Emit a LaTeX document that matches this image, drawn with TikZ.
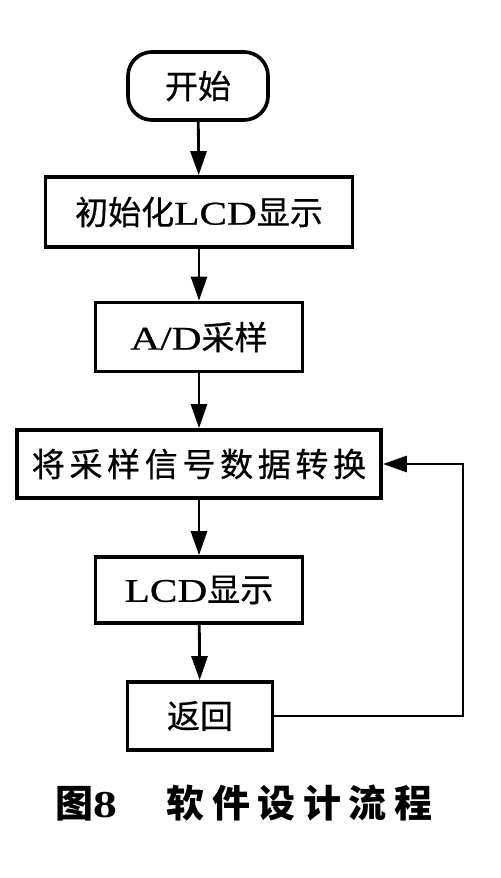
\documentclass[tikz,border=0pt]{standalone}
\usepackage{fontspec}
\setmainfont{Liberation Serif}[FakeStretch=1.25]
\newfontfamily\cjk{Noto Sans CJK SC}
\newfontfamily\boxlatin{Liberation Serif}[FakeStretch=1.25,FakeBold=0.6]
\newfontfamily\boxcjk{Noto Sans CJK SC}[FakeBold=0.6]
\usetikzlibrary{arrows.meta}

\begin{document}
\begin{tikzpicture}[x=0.025cm,y=-0.025cm,
    box/.style={draw,line width=2.6pt,inner sep=0pt,minimum height=1.7cm,
      font=\boxlatin\fontsize{23.5pt}{26pt}\selectfont},
    flow/.style={line width=2pt,-{Triangle[length=0.6cm,width=0.4cm]}}]
          \useasboundingbox (0,0) rectangle (500,878);
          % start
          \node[box,rounded corners=0.6cm,minimum width=3.5cm] (start) at (198,86) {\boxcjk 开始};
          % LCD init
          \node[box,minimum width=7.675cm,minimum height=1.75cm] (init) at (199,212) {{\boxcjk 初始化}LCD{\boxcjk 显示}};
          % sampling
          \node[box,minimum width=5.175cm,minimum height=1.725cm] (adc) at (199,337) {A/D{\boxcjk 采样}};
          % conversion
          \node[box,minimum width=9.1cm] (conv) at (199,464) {\boxcjk\addfontfeature{LetterSpace=14}将采样信号数据转换};
          % LCD output
          \node[box,minimum width=5.175cm,minimum height=1.65cm] (lcd) at (199,590) {LCD{\boxcjk 显示}};
          % return
          \node[box,minimum width=3.625cm] (ret) at (200,716) {\boxcjk 返回};
          % caption
          \node[font=\fontsize{27pt}{30pt}\selectfont\bfseries] (cap) at (244,803)
            {{\cjk 图}8\hspace{1.3em}{\cjk\addfontfeature{LetterSpace=20}软件设计流程}};
          % arrows down the column
          \draw[flow] (start) -- (init);
          \draw[flow] (init) -- (adc);
          \draw[flow] (adc) -- (conv);
          \draw[flow] (conv) -- (lcd);
          \draw[flow] (lcd) -- (ret);
          % loop back from return
          \coordinate (loopx) at (463,0);
          \draw[flow] (ret.east) -- (ret.east -| loopx) |- (conv.east);
\end{tikzpicture}
\end{document}
